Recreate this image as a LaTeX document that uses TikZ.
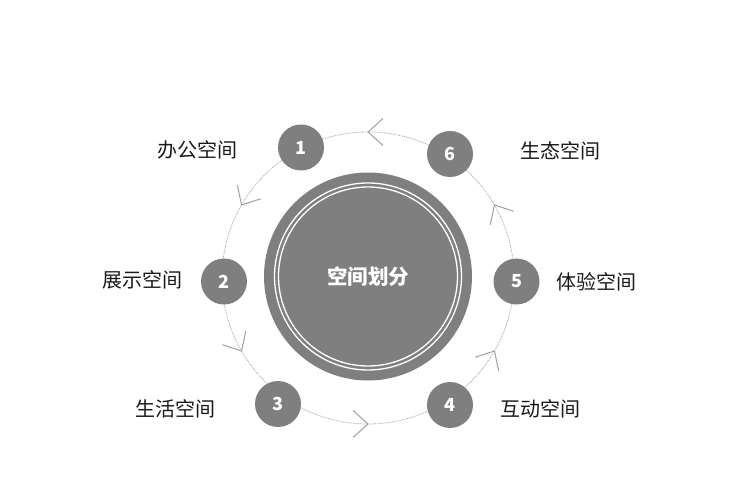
\documentclass[tikz,border=0pt]{standalone}
\usepackage{fontspec}
\setmainfont{Noto Sans CJK SC}
\newfontfamily\cjk{Noto Sans CJK SC}
\definecolor{dotgray}{HTML}{A8A8A8}
\definecolor{chevgray}{HTML}{A0A0A0}
\definecolor{fillgray}{HTML}{7F7F7F}
\definecolor{txt}{HTML}{1A1A1A}
\tikzset{
  ringline/.style={draw=dotgray, line width=0.8pt, dash pattern=on 0.8pt off 0.9pt},
  chev/.style={draw=chevgray, line width=1pt},
  numcirc/.style={circle, fill=fillgray, minimum size=46pt, inner sep=0pt, text=white, font=\cjk\bfseries\fontsize{18}{18}\selectfont},
  lbl/.style={inner sep=0pt, text=txt, font=\cjk\fontsize{20}{20}\selectfont},
  hub/.style={circle, fill=fillgray, minimum size=208pt, inner sep=0pt, text=white, font=\cjk\bfseries\fontsize{20.5}{20.5}\selectfont}
}
\begin{document}
\begin{tikzpicture}[x=1pt,y=1pt]
\useasboundingbox (0,0) rectangle (740,488);
\fill[white] (0,0) rectangle (740,488);
\coordinate (ring) at (368,210);
% dotted ring
\draw[ringline] (ring) circle[radius=146];
% chevrons
\foreach \a in {30,90,150,210,270,330}{
  \begin{scope}[shift={(ring)}, rotate=\a, xshift=146pt, rotate=90]
    \draw[chev] (-15,13.5) -- (0,0) -- (-15,-13.5);
  \end{scope}
}
% hub
\node[hub] (hub) at (368,211.5) {空间划分};
\draw[white, line width=1.3pt] (hub.center) circle[radius=93.5];
\draw[white, line width=1.3pt] (hub.center) circle[radius=89.5];
% numbered circles
\node[numcirc] (c1) at (301,340.5) {1};
\node[numcirc] (c6) at (450,334) {6};
\node[numcirc] (c2) at (224,206.5) {2};
\node[numcirc] (c5) at (516.5,206.5) {5};
\node[numcirc] (c3) at (278,84) {3};
\node[numcirc] (c4) at (450,83) {4};
% labels
\node[lbl] (l1) at (197.5,338) {办公空间};
\node[lbl] (l6) at (560.5,337) {生态空间};
\node[lbl] (l2) at (142,208) {展示空间};
\node[lbl] (l5) at (596,206) {体验空间};
\node[lbl] (l3) at (175,79) {生活空间};
\node[lbl] (l4) at (540,79) {互动空间};
\end{tikzpicture}
\end{document}
